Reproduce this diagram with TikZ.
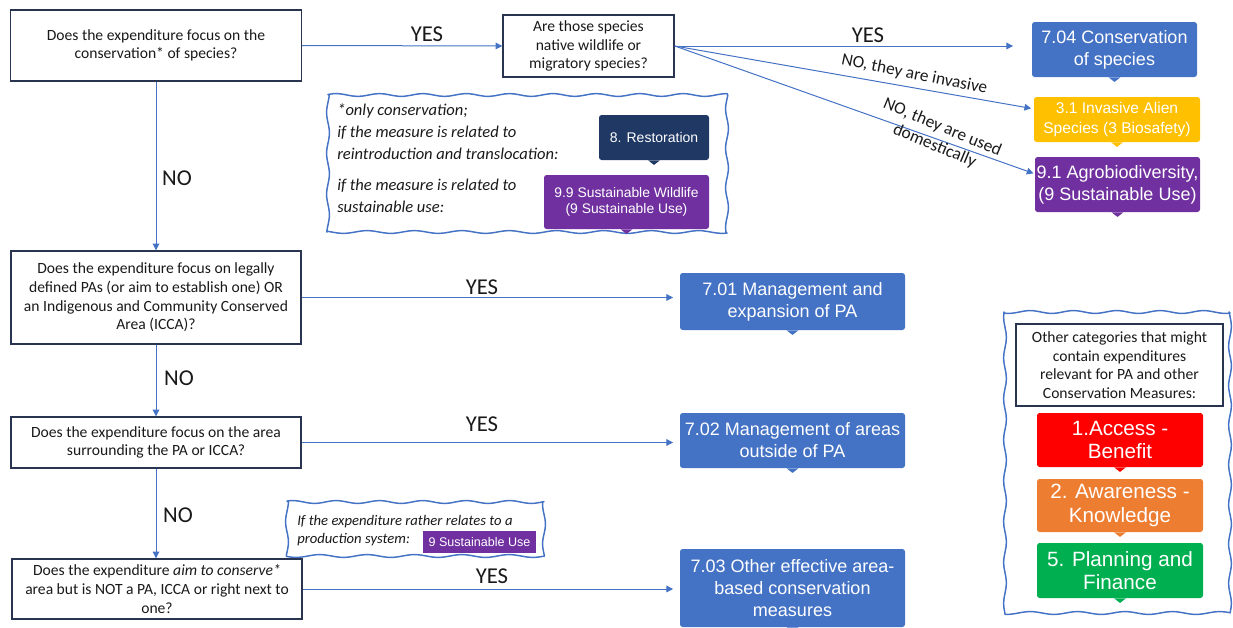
\documentclass[tikz,border=0pt]{standalone}
\usepackage{fontspec}
\setmainfont{Carlito}
\newfontfamily\arialfont{Liberation Sans}
\usetikzlibrary{arrows.meta,calc}
\definecolor{cblue}{HTML}{4472C4}
\definecolor{cyellow}{HTML}{FFC000}
\definecolor{cpurple}{HTML}{7030A0}
\definecolor{cnavy}{HTML}{1F3864}
\definecolor{cred}{HTML}{FF0000}
\definecolor{corange}{HTML}{ED7D31}
\definecolor{cgreen}{HTML}{00B050}
\definecolor{qnavy}{RGB}{40,52,80}
\definecolor{qtext}{RGB}{25,25,25}
% wavy hand-drawn frame: x1 y1 x2 y2 (pixel units)
\newcommand{\wavyframe}[4]{%
  \draw[wline]
    plot[domain=#1:#3, samples=80, variable=\t] (\t, {#2+1.4*sin(\t*8.3)})
    -- plot[domain=#2:#4, samples=60, variable=\t] ({#3+1.4*sin(\t*9.1)}, \t)
    -- plot[domain=#3:#1, samples=80, variable=\t] (\t, {#4+1.4*sin(\t*7.6)})
    -- plot[domain=#4:#2, samples=60, variable=\t] ({#1+1.4*sin(\t*8.8)}, \t)
    -- cycle;}
\begin{document}
\begin{tikzpicture}[x=0.75pt,y=-0.75pt,
  qbox/.style={draw=qnavy, line width=1.1pt, inner sep=0pt, align=center, text=qtext, font=\fontsize{11.7}{14}\selectfont},
  cat/.style={fill=#1, rounded corners=2pt, inner sep=0pt, align=center, text=white, font=\arialfont\fontsize{13.5}{16.5}\selectfont},
  arr/.style={draw=cblue, line width=0.75pt, -{Triangle[length=5pt,width=5pt]}},
  lbl/.style={font=\fontsize{17}{20}\selectfont, text=qtext, inner sep=0pt},
  slbl/.style={font=\fontsize{13}{15}\selectfont, text=qtext, align=center, sloped},
  wline/.style={draw=cblue, line width=1.1pt, line join=round},
  note/.style={font=\itshape\fontsize{12.4}{16.3}\selectfont, align=left, anchor=west, inner sep=0pt, text=qtext},
]
\useasboundingbox (0,0) rectangle (1233,628);

% wavy frames
\wavyframe{328}{95}{727}{232}
\wavyframe{287}{502}{544}{556}
\wavyframe{1005}{312}{1230}{613}

% question boxes
\node[qbox, minimum width=218.25pt, minimum height=53.25pt] (q1) at (156,45.5) {Does the expenditure focus on the\\conservation* of species?};
\node[qbox, minimum width=128.25pt, minimum height=46.5pt] (q2) at (588.5,46) {Are those species\\native wildlife or\\migratory species?};
\node[qbox, minimum width=217.5pt, minimum height=69.75pt] (q3) at (156,297.5) {Does the expenditure focus on legally\\defined PAs (or aim to establish one) OR\\an Indigenous and Community Conserved\\Area (ICCA)?};
\node[qbox, minimum width=217.5pt, minimum height=38.25pt] (q4) at (156,442.5) {Does the expenditure focus on the area\\surrounding the PA or ICCA?};
\node[qbox, minimum width=217.5pt, minimum height=45pt] (q5) at (157,589) {Does the expenditure \textit{aim to conserve*}\\area but is NOT a PA, ICCA or right next to\\one?};

% category boxes
\node[cat=cblue, minimum width=123.75pt, minimum height=41.25pt] (r704) at (1114.5,49.5) {7.04 Conservation\\of species};
\node[cat=cyellow, minimum width=124.5pt, minimum height=33.75pt, font=\arialfont\fontsize{11.7}{15}\selectfont] (r31) at (1117,119.5) {3.1 Invasive Alien\\Species (3 Biosafety)};
\node[cat=cpurple, minimum width=123.75pt, minimum height=41.25pt] (r91) at (1117.5,184.5) {9.1 Agrobiodiversity,\\(9 Sustainable Use)};
\node[cat=cblue, minimum width=168.75pt, minimum height=42.75pt] (r701) at (792.5,301.5) {7.01 Management and\\expansion of PA};
\node[cat=cblue, minimum width=168.75pt, minimum height=41.25pt] (r702) at (792.5,440.5) {7.02 Management of areas\\outside of PA};
\node[cat=cblue, minimum width=168.75pt, minimum height=58.5pt] (r703) at (792.5,588) {7.03 Other effective area-\\based conservation\\measures};
\node[cat=cnavy, minimum width=82.5pt, minimum height=33.75pt, font=\arialfont\fontsize{10.5}{12}\selectfont] (r8) at (654,137.5) {8. Restoration};
\node[cat=cpurple, minimum width=123.75pt, minimum height=40.5pt, font=\arialfont\fontsize{10.4}{12}\selectfont] (r99) at (626.5,202) {9.9 Sustainable Wildlife\\(9 Sustainable Use)};
\node[cat=cpurple, rounded corners=0pt, minimum width=84.75pt, minimum height=16.5pt, font=\arialfont\fontsize{9.4}{11}\selectfont] (r9su) at (479.5,542) {9 Sustainable Use};

% right panel
\node[qbox, line width=1pt, minimum width=155.25pt, minimum height=61.5pt] (oth) at (1119.5,365) {Other categories that might\\contain expenditures\\relevant for PA and other\\Conservation Measures:};
\node[cat=cred, minimum width=124.5pt, minimum height=40.5pt, font=\arialfont\fontsize{15.5}{17.5}\selectfont] (c1) at (1120,440) {1.Access -\\Benefit};
\node[cat=corange, minimum width=124.5pt, minimum height=39.75pt, font=\arialfont\fontsize{15.5}{17.5}\selectfont] (c2) at (1120,505.5) {2. Awareness -\\Knowledge};
\node[cat=cgreen, minimum width=124.5pt, minimum height=41.25pt, font=\arialfont\fontsize{15.5}{17.5}\selectfont] (c5) at (1120,570.5) {5. Planning and\\Finance};

% callout tabs
\foreach \n/\c in {r704/cblue, r31/cyellow, r91/cpurple, r701/cblue, r702/cblue, r703/cblue, r8/cnavy, r99/cpurple, c1/cred, c2/corange, c5/cgreen}
  \fill[\c] ([xshift=-4.5pt]\n.south) -- ([yshift=-3.5pt]\n.south) -- ([xshift=4.5pt]\n.south) -- cycle;

% notes
\node[note] (n1) at (337,131.5) {*only conservation;\\if the measure is related to\\reintroduction and translocation:};
\node[note] (n2) at (337,196) {if the measure is related to\\sustainable use:};
\node[note, font=\itshape\fontsize{11}{13.5}\selectfont] (n3) at (297,531) {If the expenditure rather relates to a\\production system:};

% connectors
\draw[arr] (q1.east) -- (q2.west);
\draw[arr, shorten >=14pt] (q2.east) -- (q2.east -| r704.west);
\draw[arr, shorten >=2pt] (q2.east) -- node[slbl, above, pos=0.66, inner sep=4pt, rotate=-1.5] (linv) {NO, they are invasive} ([yshift=8pt]r31.west);
\draw[arr, shorten >=1pt] (q2.east) -- node[slbl, pos=0.73, inner sep=0pt, yshift=2pt, rotate=-3] (ldom) {NO, they are used\\domestically} ([yshift=8pt]r91.west);
\draw[arr] (q1.south) -- (q3.north);
\draw[arr] (q3.south) -- (q4.north);
\draw[arr] (q4.south) -- (q4.south |- q5.north);
\draw[arr, shorten >=5pt] (q3.east) -- (q3.east -| r701.west);
\draw[arr, shorten >=5pt] (q4.east) -- (q4.east -| r702.west);
\draw[arr, shorten >=5pt] (q5.east) -- (q5.east -| r703.west);

% labels
\node[lbl] (y1) at (427,34) {YES};
\node[lbl] (y2) at (868,35) {YES};
\node[lbl] (no1) at (177,178) {NO};
\node[lbl] (y3) at (482,287) {YES};
\node[lbl] (no2) at (179,378) {NO};
\node[lbl] (y4) at (482,424) {YES};
\node[lbl] (no3) at (178,515) {NO};
\node[lbl] (y5) at (492,576) {YES};
\end{tikzpicture}
\end{document}
